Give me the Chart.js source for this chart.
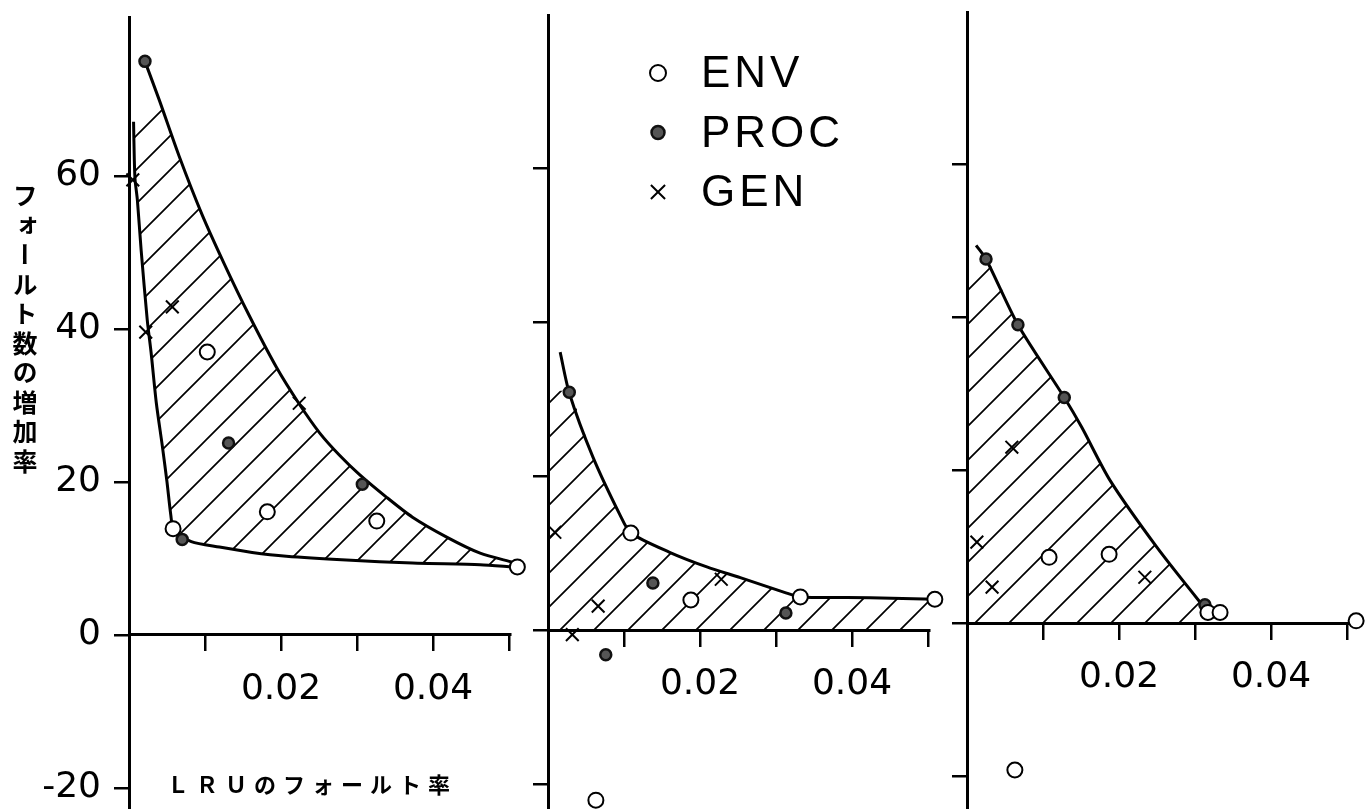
<!DOCTYPE html>
<html>
<head>
<meta charset="utf-8">
<script src="https://cdn.jsdelivr.net/npm/chart.js@4.4.0/dist/chart.umd.min.js"></script>
<style>
  html, body { margin: 0; padding: 0; background: #fff; }
  #wrap { position: relative; width: 1368px; height: 809px; overflow: hidden; }
  #wrap canvas { position: absolute; left: 0; top: 0; }
  #ytitle {
    position: absolute; left: 7px; top: 183px;
    writing-mode: vertical-rl;
    font: 700 25px "Noto Sans CJK JP";
    letter-spacing: 4.5px; color: #000;
  }
  #xtitle {
    position: absolute; left: 167px; top: 769px;
    font: 700 22px "Noto Sans CJK JP";
    letter-spacing: 7px; line-height: 28px; color: #000;
  }
</style>
</head>
<body>
<div id="wrap">
  <canvas id="p1" width="1368" height="809"></canvas>
  <canvas id="p2" width="1368" height="809"></canvas>
  <canvas id="p3" width="1368" height="809"></canvas>
  <div id="ytitle">フォールト数の増加率</div>
  <div id="xtitle">ＬＲＵのフォールト率</div>
</div>
<script>
// axes
const xTicks      = [0.01, 0.02, 0.03, 0.04, 0.05];
const xTickLabels = ['', '0.02', '', '0.04', ''];
const yTicks      = [-20, 0, 20, 40, 60];
const yTickLabels = ['-20', '0', '20', '40', '60'];
const legendNames = ['ENV', 'PROC', 'GEN'];

// panel 1  [LRU fault rate, increase %]
const env1  = [[0.0103, 37.0], [0.0182, 16.1], [0.0326, 14.9], [0.0058, 13.9], [0.0511, 8.9]];
const proc1 = [[0.0021, 75.0], [0.0131, 25.1], [0.0307, 19.7], [0.0070, 12.5]];
const gen1  = [[0.0005, 59.5], [0.0022, 39.6], [0.0057, 42.9], [0.0224, 30.3]];
const upper1 = [[0.0021, 75.0], [0.0040, 69.9], [0.0066, 62.6], [0.0096, 55.0], [0.0125, 48.6],
                [0.0158, 41.8], [0.0194, 35.0], [0.0224, 30.2], [0.0251, 26.4], [0.0277, 23.5],
                [0.0303, 21.0], [0.0339, 18.0], [0.0373, 15.4], [0.0418, 12.8], [0.0462, 10.7],
                [0.0505, 9.5]];
const lower1 = [[0.0006, 67.1], [0.0007, 62.1], [0.0008, 59.5], [0.0011, 56.9], [0.0016, 50.3],
                [0.0024, 41.2], [0.0029, 37.0], [0.0036, 30.3], [0.0044, 24.6], [0.0050, 20.0],
                [0.0055, 15.7], [0.0059, 13.7], [0.0082, 12.2], [0.0119, 11.5], [0.0162, 10.8],
                [0.0207, 10.3], [0.0286, 9.8], [0.0373, 9.4], [0.0462, 9.2], [0.0505, 8.9]];

// panel 2
const env2  = [[0.0109, 12.6], [0.0188, 3.9], [0.0332, 4.3], [0.0509, 4.0], [0.0063, -22.1]];
const proc2 = [[0.0028, 30.9], [0.0138, 6.1], [0.0313, 2.2], [0.0076, -3.2]];
const gen2  = [[0.0009, 12.7], [0.0228, 6.6], [0.0066, 3.1], [0.0032, -0.6]];
const upper2 = [[0.0016, 36.1], [0.0028, 30.8], [0.0059, 22.5], [0.0095, 14.9], [0.0109, 12.6],
                [0.0160, 10.1], [0.0209, 8.2], [0.0253, 6.8], [0.0314, 4.8], [0.0332, 4.3],
                [0.0424, 4.2], [0.0509, 4.0]];
const hatchTop2 = [[0, 31.0]];

// panel 3
const env3  = [[0.0108, 8.6], [0.0187, 9.0], [0.0317, 1.4], [0.0333, 1.4], [0.0512, 0.3], [0.0063, -19.2]];
const proc3 = [[0.0025, 47.6], [0.0067, 39.0], [0.0128, 29.5], [0.0313, 2.4]];
const gen3  = [[0.0059, 23.0], [0.0013, 10.6], [0.0033, 4.7], [0.0234, 6.0]];
const upper3 = [[0.0012, 49.4], [0.0025, 47.6], [0.0067, 39.0], [0.0128, 29.5], [0.0151, 25.6],
                [0.0188, 18.7], [0.0250, 9.9], [0.0307, 2.7], [0.0313, 2.1]];
const hatchTop3 = [[0, 45.7]];

const pts = a => a.map(([x, y]) => ({ x, y }));

// diagonal hatching
function hatchPattern(ctx) {
  const s = 34, tile = document.createElement('canvas');
  tile.width = s; tile.height = s;
  const g = tile.getContext('2d');
  g.strokeStyle = '#000'; g.lineWidth = 1.7;
  g.beginPath();
  g.moveTo(-2, s + 2); g.lineTo(s + 2, -2);
  g.moveTo(-2, 2); g.lineTo(2, -2);
  g.moveTo(s - 2, s + 2); g.lineTo(s + 2, s - 2);
  g.stroke();
  return ctx.createPattern(tile, 'repeat');
}

const envStyle  = { pointStyle: 'circle', pointRadius: 7.5, pointBackgroundColor: '#fff', pointBorderColor: '#000', pointBorderWidth: 2 };
const procStyle = { pointStyle: 'circle', pointRadius: 5.5, pointBackgroundColor: '#555', pointBorderColor: '#111', pointBorderWidth: 2.5 };
const genStyle  = { pointStyle: 'crossRot', pointRadius: 9, pointBorderColor: '#000', pointBorderWidth: 2 };

function markers(env, proc, gen) {
  return [
    { label: 'ENV',  data: pts(env),  ...envStyle,  clip: false },
    { label: 'PROC', data: pts(proc), ...procStyle, clip: false },
    { label: 'GEN',  data: pts(gen),  ...genStyle,  clip: false }
  ];
}

function curve(data) {
  return { data: pts(data), showLine: true, borderColor: '#000', borderWidth: 3,
           pointRadius: 0, tension: 0.25, fill: false, clip: false };
}

function hatchArea(data, fill, pattern) {
  return { data: pts(data), showLine: true, borderWidth: 0, borderColor: 'rgba(0,0,0,0)',
           pointRadius: 0, tension: 0.25, fill, backgroundColor: pattern };
}

// legend drawn inside the middle panel
const markerLegend = {
  id: 'markerLegend',
  afterDraw(chart, args, opts) {
    if (!opts.show) return;
    const ctx = chart.ctx;
    ctx.save();
    legendNames.forEach((name, i) => {
      const ds = chart.data.datasets.find(d => d.label === name);
      const cy = opts.y + i * opts.dy;
      ctx.fillStyle = ds.pointBackgroundColor || '#000';
      ctx.strokeStyle = ds.pointBorderColor;
      ctx.lineWidth = ds.pointBorderWidth;
      Chart.helpers.drawPoint(ctx, { pointStyle: ds.pointStyle, radius: opts.radius[i], borderWidth: ds.pointBorderWidth, rotation: 0 }, opts.mx, cy);
      ctx.fillStyle = '#000';
      ctx.font = '44px "Liberation Sans"';
      ctx.letterSpacing = '4px';
      ctx.textBaseline = 'middle';
      ctx.fillText(name, opts.tx, cy + 2);
    });
    ctx.restore();
  }
};

const tickFont = { family: 'DejaVu Sans', size: 36 };

function panel(id, o) {
  const canvas = document.getElementById(id);
  const ctx = canvas.getContext('2d');
  const pattern = hatchPattern(ctx);
  const yW = o.showY ? o.axisX : 20;
  return new Chart(ctx, {
    type: 'scatter',
    data: { datasets: o.datasets(pattern) },
    options: {
      responsive: false,
      devicePixelRatio: 1,
      animation: false,
      events: [],
      layout: { autoPadding: false, padding: { left: o.axisX - yW, top: o.top, right: 1368 - o.right, bottom: 0 } },
      scales: {
        x: {
          type: 'linear', min: 0, max: 0.0502, position: { y: 0 },
          afterBuildTicks: s => { s.ticks = xTicks.map(v => ({ value: v })); },
          afterFit: s => { s.paddingLeft = 0; s.paddingRight = 0; s.paddingTop = 0; s.paddingBottom = 0; },
          grid: { drawOnChartArea: false, drawTicks: true, tickLength: 15, color: '#000', lineWidth: 2.5 },
          border: { display: true, color: '#000', width: 3 },
          ticks: { callback: (v, i) => xTickLabels[i], font: tickFont, color: '#000',
                   padding: 18, maxRotation: 0, autoSkip: false }
        },
        y: {
          type: 'linear', min: o.yMin, max: o.yMax, position: 'left',
          afterBuildTicks: s => { s.ticks = yTicks.map(v => ({ value: v })); },
          afterFit: s => { s.width = yW; s.paddingTop = 0; s.paddingBottom = 0; s.paddingLeft = 0; s.paddingRight = 0; },
          grid: { drawOnChartArea: false, drawTicks: true, tickLength: 15, color: '#000', lineWidth: 2.5 },
          border: { display: true, color: '#000', width: 3 },
          ticks: { display: o.showY, callback: (v, i) => yTickLabels[i], font: tickFont, color: '#000', padding: 13 }
        }
      },
      plugins: {
        legend: { display: false },
        tooltip: { enabled: false },
        markerLegend: o.legend || { show: false }
      }
    },
    plugins: [markerLegend]
  });
}

// 1) left panel
panel('p1', {
  axisX: 129, right: 129 + 0.0502 * 7600, top: 17, yMin: -22.75, yMax: 80.8, showY: true,
  datasets: pat => [
    ...markers(env1, proc1, gen1),
    curve(upper1),
    curve(lower1),
    hatchArea(upper1.slice(1).concat(lower1.slice().reverse()), 'shape', pat)
  ]
});

// 2) middle panel (with legend)
panel('p2', {
  axisX: 548, right: 548 + 0.0502 * 7600, top: 15, yMin: -23.25, yMax: 79.9, showY: false,
  legend: { show: true, mx: 658, tx: 701, y: 73, dy: 59.5, radius: [8, 6.5, 10] },
  datasets: pat => [
    ...markers(env2, proc2, gen2),
    curve(upper2),
    hatchArea(hatchTop2.concat(upper2.slice(1)), 'origin', pat)
  ]
});

// 3) right panel
panel('p3', {
  axisX: 967, right: 967 + 0.0502 * 7600, top: 12, yMin: -24.3, yMax: 79.9, showY: false,
  datasets: pat => [
    ...markers(env3, proc3, gen3),
    curve(upper3),
    hatchArea(hatchTop3.concat(upper3.slice(1)), 'origin', pat)
  ]
});
</script>
</body>
</html>
